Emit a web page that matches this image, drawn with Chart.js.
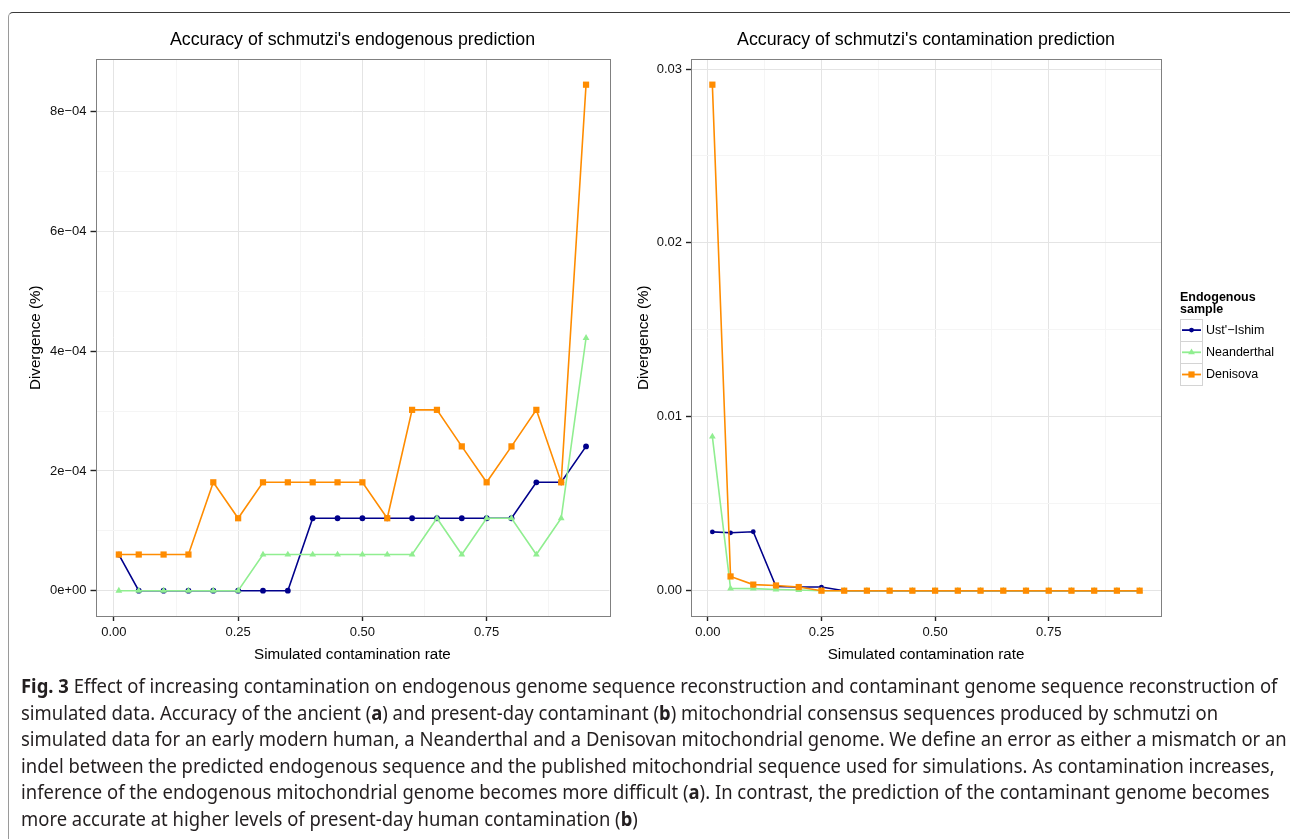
<!DOCTYPE html>
<html>
<head>
<meta charset="utf-8">
<script src="https://cdn.jsdelivr.net/npm/chart.js@4.4.1/dist/chart.umd.min.js"></script>
<style>
  body { margin:0; background:#fff; width:1290px; height:839px; overflow:hidden; position:relative; }
  .frame { position:absolute; left:8px; top:12px; width:1300px; height:900px; border-top:1px solid #3a3a3a; border-left:1px solid #9a9a9a; border-top-left-radius:5px; }
  .panel { position:absolute; top:0; }
  .caption { position:absolute; left:21px; top:673px; font-family:'Noto Sans', sans-serif; font-size:19px; line-height:26.6px; color:#231f20; }
  .caption div { white-space:nowrap; width:max-content; transform-origin:0 0; }
</style>
</head>
<body>
<div class="frame"></div>
<div class="panel" style="left:0;width:640px;height:680px"><canvas id="endoChart" width="640" height="680"></canvas></div>
<div class="panel" style="left:630px;width:660px;height:680px"><canvas id="contChart" width="660" height="680"></canvas></div>
<div class="caption">
  <div><b>Fig. 3</b> Effect of increasing contamination on endogenous genome sequence reconstruction and contaminant genome sequence reconstruction of</div>
  <div>simulated data. Accuracy of the ancient (<b>a</b>) and present-day contaminant (<b>b</b>) mitochondrial consensus sequences produced by schmutzi on</div>
  <div>simulated data for an early modern human, a Neanderthal and a Denisovan mitochondrial genome. We define an error as either a mismatch or an</div>
  <div>indel between the predicted endogenous sequence and the published mitochondrial sequence used for simulations. As contamination increases,</div>
  <div>inference of the endogenous mitochondrial genome becomes more difficult (<b>a</b>). In contrast, the prediction of the contaminant genome becomes</div>
  <div>more accurate at higher levels of present-day human contamination (<b>b</b>)</div>
</div>
<script>
const rates = [0.01, 0.05, 0.10, 0.15, 0.20, 0.25, 0.30, 0.35, 0.40, 0.45, 0.50, 0.55, 0.60, 0.65, 0.70, 0.75, 0.80, 0.85, 0.90, 0.95];
const seriesNames = ["Ust'\u2212Ishim", 'Neanderthal', 'Denisova'];
const seriesColors = ['#00008b', '#90ee90', '#ff8c00'];
const seriesShapes = ['circle', 'triangle', 'rect'];
const legendTitle = ['Endogenous', 'sample'];

// panel a: endogenous prediction
const endoUst  = [6.04e-5, 0, 0, 0, 0, 0, 0, 0, 1.21e-4, 1.21e-4, 1.21e-4, 1.21e-4, 1.21e-4, 1.21e-4, 1.21e-4, 1.21e-4, 1.21e-4, 1.81e-4, 1.81e-4, 2.41e-4];
const endoNean = [0, 0, 0, 0, 0, 0, 6.04e-5, 6.04e-5, 6.04e-5, 6.04e-5, 6.04e-5, 6.04e-5, 6.04e-5, 1.21e-4, 6.04e-5, 1.21e-4, 1.21e-4, 6.04e-5, 1.21e-4, 4.22e-4];
const endoDen  = [6.04e-5, 6.04e-5, 6.04e-5, 6.04e-5, 1.81e-4, 1.21e-4, 1.81e-4, 1.81e-4, 1.81e-4, 1.81e-4, 1.81e-4, 1.21e-4, 3.02e-4, 3.02e-4, 2.41e-4, 1.81e-4, 2.41e-4, 3.02e-4, 1.81e-4, 8.45e-4];

// panel b: contamination prediction
const contUst  = [0.00338, 0.00333, 0.00339, 0.00024, 0.00021, 0.00021, 0, 0, 0, 0, 0, 0, 0, 0, 0, 0, 0, 0, 0, 0];
const contNean = [0.00886, 0.00013, 0.00012, 0.00007, 0.00004, 0, 0, 0, 0, 0, 0, 0, 0, 0, 0, 0, 0, 0, 0, 0];
const contDen  = [0.0291, 0.00082, 0.00035, 0.0003, 0.00021, 0, 0, 0, 0, 0, 0, 0, 0, 0, 0, 0, 0, 0, 0, 0];

const xTicks = [0, 0.25, 0.5, 0.75];
const xTickLabels = ['0.00', '0.25', '0.50', '0.75'];
const yTicksEndo = [0, 2e-4, 4e-4, 6e-4, 8e-4];
const yLabelsEndo = ['0e+00', '2e\u221204', '4e\u221204', '6e\u221204', '8e\u221204'];
const yTicksCont = [0, 0.01, 0.02, 0.03];
const yLabelsCont = ['0.00', '0.01', '0.02', '0.03'];

const FONT = "'Liberation Sans', Arial, sans-serif";

// major ticks with labels plus unlabelled minor grid lines half way between
function makeTicks(majors, labels, min, max) {
  const step = majors[1] - majors[0];
  const out = majors.map((v, i) => ({ value: v, major: true, txt: labels[i] }));
  [majors[0] - step / 2, ...majors.map(v => v + step / 2)].forEach(v => {
    if (v > min && v < max) out.push({ value: v, major: false, txt: '' });
  });
  return out.sort((a, b) => a.value - b.value);
}

function axis(majors, labels, min, max, title, fitKey, fitSize) {
  return {
    type: 'linear', min, max, bounds: 'data',
    afterBuildTicks: s => { s.ticks = makeTicks(majors, labels, min, max); },
    afterFit: s => { s[fitKey] = fitSize; },
    ticks: { autoSkip: false, maxRotation: 0, padding: 4, color: '#111', font: { family: FONT, size: 13 },
             callback: (v, i, ticks) => ticks[i].txt },
    grid: {
      color: c => c.tick && c.tick.major ? '#e4e4e4' : '#f5f5f5',
      tickColor: c => c.tick && c.tick.major ? '#222' : 'rgba(0,0,0,0)',
      tickLength: 5, tickWidth: 1.4, lineWidth: 1,
    },
    border: { display: false },
    title: { display: true, text: title, color: '#000', font: { family: FONT, size: 15.2 }, padding: 0 },
  };
}

function makeDatasets(seriesList, radii) {
  return seriesList.map((vals, i) => ({
    label: seriesNames[i],
    data: vals.map((v, k) => ({ x: rates[k], y: v })),
    borderColor: seriesColors[i], backgroundColor: seriesColors[i],
    borderWidth: 1.6, pointStyle: seriesShapes[i], pointRadius: radii[i], pointBorderWidth: 0,
    pointHoverRadius: radii[i], order: 3 - i, tension: 0, clip: false,
  }));
}

const panelBorder = {
  id: 'panelBorder',
  afterDraw(chart) {
    const { ctx, chartArea: a } = chart;
    ctx.save();
    ctx.strokeStyle = '#808080';
    ctx.lineWidth = 1;
    ctx.strokeRect(Math.round(a.left) + 0.5, Math.round(a.top) + 0.5, Math.round(a.right - a.left), Math.round(a.bottom - a.top));
    ctx.restore();
  }
};

function marker(ctx, style, r, x, y) {
  if (Chart.helpers && Chart.helpers.drawPoint) {
    Chart.helpers.drawPoint(ctx, { pointStyle: style, radius: r, rotation: 0, borderWidth: 0 }, x, y);
    return;
  }
  ctx.beginPath();
  if (style === 'rect') { const s = r * Math.SQRT1_2; ctx.rect(x - s, y - s, 2 * s, 2 * s); }
  else ctx.arc(x, y, r, 0, Math.PI * 2);
  ctx.fill();
}

const sideLegend = {
  id: 'sideLegend',
  afterDraw(chart) {
    const ctx = chart.ctx;
    const x0 = 550, y0 = 319, key = 22.2;
    ctx.save();
    ctx.fillStyle = '#000';
    ctx.textAlign = 'left';
    ctx.textBaseline = 'alphabetic';
    ctx.font = 'bold 12.5px ' + FONT;
    legendTitle.forEach((t, i) => ctx.fillText(t, x0, 300.5 + i * 12.5));
    chart.data.datasets.forEach((ds, i) => {
      const y = y0 + i * key;
      ctx.fillStyle = '#fff';
      ctx.strokeStyle = '#d4d4d4';
      ctx.lineWidth = 1;
      ctx.fillRect(x0, y, 22, key);
      ctx.strokeRect(x0 + 0.5, Math.round(y) + 0.5, 22, Math.round(key));
      ctx.strokeStyle = ds.borderColor;
      ctx.lineWidth = 1.8;
      ctx.beginPath();
      ctx.moveTo(x0 + 2, y + key / 2);
      ctx.lineTo(x0 + 21, y + key / 2);
      ctx.stroke();
      ctx.fillStyle = ds.backgroundColor;
      marker(ctx, ds.pointStyle, ds.pointRadius, x0 + 11.5, y + key / 2);
      ctx.fillStyle = '#000';
      ctx.font = '12.5px ' + FONT;
      ctx.textBaseline = 'middle';
      ctx.fillText(ds.label, x0 + 26, y + key / 2 + 0.5);
      ctx.textBaseline = 'alphabetic';
    });
    ctx.restore();
  }
};

function panel(id, title, datasets, yMajors, yLabels, yMin, yMax, pad, yWidth, extra) {
  return new Chart(document.getElementById(id), {
    type: 'line',
    data: { datasets },
    options: {
      responsive: false, animation: false, devicePixelRatio: 1,
      layout: { padding: pad },
      plugins: {
        legend: { display: false }, tooltip: { enabled: false },
        title: { display: true, text: title, fullSize: false, color: '#000',
                 font: { family: FONT, size: 17.8, weight: 'normal', lineHeight: 1.2 }, padding: { top: 0, bottom: 9 } },
      },
      scales: {
        x: axis(xTicks, xTickLabels, -0.037, 0.997, 'Simulated contamination rate', 'height', 48.4),
        y: axis(yMajors, yLabels, yMin, yMax, 'Divergence (%)', 'width', yWidth),
      },
    },
    plugins: [panelBorder].concat(extra),
  });
}

panel('endoChart', "Accuracy of schmutzi's endogenous prediction",
  makeDatasets([endoUst, endoNean, endoDen], [2.9, 3.9, 4.4]),
  yTicksEndo, yLabelsEndo, -4.225e-5, 8.873e-4,
  { left: 27, right: 30.6, top: 29, bottom: 15.6 }, 68.5, []);

panel('contChart', "Accuracy of schmutzi's contamination prediction",
  makeDatasets([contUst, contNean, contDen], [2.4, 3.9, 4.4]),
  yTicksCont, yLabelsCont, -0.001455, 0.030555,
  { left: 4.6, right: 129, top: 29, bottom: 15.6 }, 56.4, [sideLegend]);

// fit the caption lines to the width of the first line in the reference
const capLines = document.querySelectorAll('.caption div');
const k = 1256 / capLines[0].offsetWidth;
capLines.forEach(d => { d.style.transform = 'scaleX(' + k + ')'; });
</script>
</body>
</html>
